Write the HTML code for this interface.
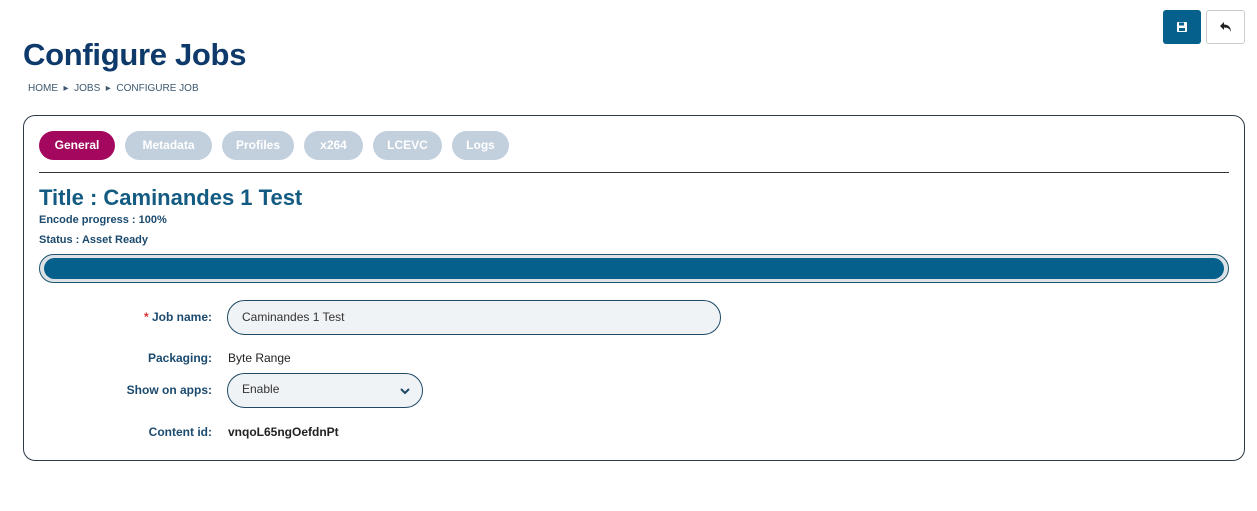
<!DOCTYPE html>
<html><head><meta charset="utf-8"><style>
*{box-sizing:border-box;margin:0;padding:0}
body{width:1257px;height:511px;background:#fff;font-family:"Liberation Sans",sans-serif;position:relative;overflow:hidden}
.a{position:absolute}
h1{position:absolute;left:23px;top:37px;font-size:31px;font-weight:bold;color:#0d3a6a;letter-spacing:-0.3px}
.bc{left:28px;top:83px;font-size:10px;color:#3d5870}
.card{left:23px;top:115px;width:1222px;height:346px;border:1px solid #2e3a48;border-radius:12px}
.tab{position:absolute;top:131px;height:29px;border-radius:15px;background:#c2cfdd;color:#fff;font-size:12px;font-weight:bold;text-align:center;line-height:29px}
.lab{position:absolute;font-size:12px;font-weight:bold;color:#1b4a6e;text-align:right;width:120px;left:92px}
.val{position:absolute;font-size:12px;color:#222;left:228px}
</style></head><body>
<div class="a" style="left:1163px;top:10px;width:38px;height:34px;background:#06608c;border-radius:3px;color:#fff;font-size:12px;text-align:center;line-height:34px">
<svg width="12" height="12" viewBox="0 0 12 12" style="margin-top:11px"><rect x="1" y="1" width="10" height="10" rx="1" fill="#fff"/><rect x="3" y="1.5" width="5" height="3" fill="#06608c"/><rect x="3" y="7" width="6" height="3" fill="#06608c"/></svg></div>
<div class="a" style="left:1206px;top:10px;width:39px;height:34px;border:1px solid #ccc;border-radius:3px;text-align:center">
<svg width="14" height="12" viewBox="0 0 14 12" style="margin-top:10px"><path d="M5 1 L1 5 L5 9 V6.5 C9 6.5 11 8 12 11 C12 6 9 3.5 5 3.5 Z" fill="#222"/></svg></div>
<h1>Configure Jobs</h1>
<div class="a bc">HOME &nbsp;▸&nbsp; JOBS &nbsp;▸&nbsp; CONFIGURE JOB</div>
<div class="a card"></div>
<div class="tab" style="left:39px;width:76px;background:#a3085e">General</div>
<div class="tab" style="left:125px;width:87px">Metadata</div>
<div class="tab" style="left:222px;width:72px">Profiles</div>
<div class="tab" style="left:304px;width:59px">x264</div>
<div class="tab" style="left:373px;width:69px">LCEVC</div>
<div class="tab" style="left:452px;width:57px">Logs</div>
<div class="a" style="left:39px;top:172px;width:1190px;height:1px;background:#333"></div>
<div class="a" style="left:39px;top:185px;font-size:22px;font-weight:bold;color:#135b82">Title : Caminandes 1 Test</div>
<div class="a" style="left:39px;top:214px;font-size:11px;font-weight:bold;color:#1b4a6e">Encode progress : 100%</div>
<div class="a" style="left:39px;top:234px;font-size:11px;font-weight:bold;color:#1b4a6e">Status : Asset Ready</div>
<div class="a" style="left:39px;top:254px;width:1190px;height:29px;border:1px solid #1f5570;border-radius:15px;background:#dde2e6"></div>
<div class="a" style="left:44px;top:258px;width:1180px;height:21px;border-radius:11px;background:#05608b"></div>
<div class="lab" style="top:310px"><span style="color:#d33">*</span> Job name:</div>
<div class="a" style="left:227px;top:300px;width:494px;height:35px;border:1px solid #1f4a66;border-radius:18px;background:#eff3f6;font-size:12px;color:#333;padding:9px 0 0 14px">Caminandes 1 Test</div>
<div class="lab" style="top:351px">Packaging:</div>
<div class="val" style="top:351px">Byte Range</div>
<div class="lab" style="top:383px">Show on apps:</div>
<div class="a" style="left:227px;top:373px;width:196px;height:35px;border:1px solid #1f4a66;border-radius:18px;background:#eff3f6;font-size:12px;color:#333;padding:8px 0 0 14px">Enable
<svg width="10" height="8" viewBox="0 0 10 8" style="position:absolute;right:12px;top:13px"><path d="M1 2 L5 6 L9 2" stroke="#1f4a66" stroke-width="2" fill="none"/></svg></div>
<div class="lab" style="top:425px">Content id:</div>
<div class="val" style="top:425px;font-weight:bold;color:#222">vnqoL65ngOefdnPt</div>
</body></html>
